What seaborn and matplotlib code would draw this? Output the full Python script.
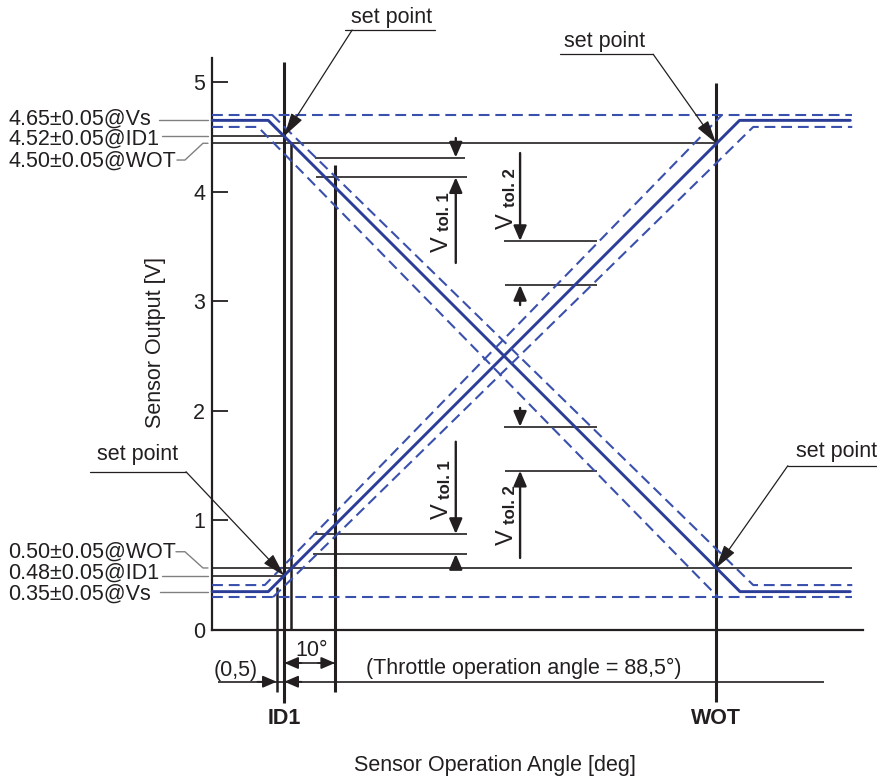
import matplotlib
matplotlib.use("Agg")
import matplotlib.pyplot as plt
import seaborn as sns
import pandas as pd

# ---------------- data (angle in deg relative to ID1, output in V) ----------------
angle_dec = [-14.8, -3.3, 93.4, 116.0]
volt_dec = [4.65, 4.65, 0.35, 0.35]
angle_inc = [-14.8, -3.3, 93.3, 116.0]
volt_inc = [0.35, 0.35, 4.65, 4.65]

angle_dec_hi = [-2.5, 96.1, 116.4]
volt_dec_hi = [4.70, 0.41, 0.41]
angle_dec_lo = [-14.8, -5.4, 88.9]
volt_dec_lo = [4.59, 4.59, 0.30]
angle_inc_hi = [-14.8, -4.0, 89.7]
volt_inc_hi = [0.41, 0.41, 4.70]
angle_inc_lo = [-2.3, 96.1, 116.4]
volt_inc_lo = [0.30, 4.59, 4.59]

limit_angle = [-14.8, 116.4]
limit_hi = 4.70
limit_lo = 0.30

id1_angle = 0.0
wot_angle = 88.5
id1_hi, wot_hi = 4.507, 4.441
id1_lo, wot_lo = 0.495, 0.566
vs_hi, vs_lo = 4.65, 0.35

yticks = [0, 1, 2, 3, 4, 5]
labels_top = ["4.65±0.05@Vs", "4.52±0.05@ID1", "4.50±0.05@WOT"]
labels_bot = ["0.50±0.05@WOT", "0.48±0.05@ID1", "0.35±0.05@Vs"]

# ---------------- style ----------------
sns.set_theme(style="white")
plt.rcParams["font.family"] = ["Liberation Sans", "DejaVu Sans"]
ink = "#231f20"
blue = "#2b3d97"
blue_d = "#3a50ad"
grey = "#808080"
FS = 15.5

fig = plt.figure(figsize=(8.78, 7.8), dpi=100)
ax = fig.add_axes([212 / 878, 150 / 780, 651 / 878, 572 / 780])
ax.set_xlim(-14.82, 118.6)
ax.set_ylim(0, 5.219)

# ---------------- curves ----------------
dash = (0, (5.2, 2.8))
def curve(xs, ys, solid=True):
    df = pd.DataFrame({"a": xs, "v": ys})
    sns.lineplot(data=df, x="a", y="v", sort=False, estimator=None, ax=ax,
                 color=blue if solid else blue_d,
                 lw=2.1 if solid else 1.5,
                 linestyle="-" if solid else dash, clip_on=False, zorder=3)

curve(angle_dec, volt_dec)
curve(angle_inc, volt_inc)
curve(angle_dec_hi, volt_dec_hi, False)
curve(angle_dec_lo, volt_dec_lo, False)
curve(angle_inc_hi, volt_inc_hi, False)
curve(angle_inc_lo, volt_inc_lo, False)
curve(limit_angle, [limit_hi, limit_hi], False)
curve(limit_angle, [limit_lo, limit_lo], False)

for s in ["top", "right"]:
    ax.spines[s].set_visible(False)
for s in ["left", "bottom"]:
    ax.spines[s].set_linewidth(1.6)
    ax.spines[s].set_color(ink)
ax.set_xticks([])
ax.set_yticks(yticks)
ax.tick_params(axis="y", direction="in", length=11.5, width=1.3, pad=5,
               labelsize=FS, colors=ink, left=True)

# ---------------- reference lines ----------------
def hl(y, x0, x1, lw=1.2, c=ink):
    ax.plot([x0, x1], [y, y], color=c, lw=lw, clip_on=False, zorder=2,
            solid_capstyle="butt")

def vl(x, y0, y1, lw=2.0):
    ax.plot([x, x], [y0, y1], color=ink, lw=lw, clip_on=False, zorder=2,
            solid_capstyle="butt")

xl = -14.82
hl(id1_hi, xl, id1_angle)
hl(wot_hi, xl, wot_angle)
hl(id1_lo, xl, id1_angle)
hl(wot_lo, xl, 116.4)
# tolerance dimension extension lines
hl(4.311, 6.3, 37.0)
hl(4.131, 6.5, 37.45)
hl(3.549, 45.0, 64.1)
hl(3.148, 45.2, 64.1)
hl(1.855, 45.0, 64.1)
hl(1.453, 45.2, 64.1)
hl(0.876, 5.9, 37.45)
hl(0.693, 5.9, 37.45)

vl(-1.56, 0.395, -0.566, 1.8)
vl(id1_angle, 5.18, -0.666, 2.2)
vl(1.37, wot_hi, 0.0, 1.8)
vl(10.4, 4.24, -0.566, 2.2)
vl(wot_angle, 4.99, -0.657, 2.2)

# bottom dimension lines
hl(-0.472, -13.6, 110.6)
hl(-0.301, 0.0, 10.4)

def arrow(x0, y0, x1, y1, ms=14, lw=1.2, hl_=0.65, hw=0.28):
    ax.annotate("", xy=(x1, y1), xytext=(x0, y0),
                arrowprops=dict(arrowstyle=f"-|>,head_length={hl_},head_width={hw}",
                                color=ink, lw=lw, shrinkA=0, shrinkB=0,
                                mutation_scale=ms),
                annotation_clip=False)

arrow(3.5, -0.301, 0.0, -0.301, ms=13)
arrow(6.9, -0.301, 10.4, -0.301, ms=13)
arrow(-5.5, -0.472, -1.56, -0.472, ms=13)
arrow(3.5, -0.472, 0.0, -0.472, ms=13)

ax.text(5.68, -0.19, "10°", ha="center", va="center", fontsize=FS, color=ink)
ax.text(-9.9, -0.37, "(0,5)", ha="center", va="center", fontsize=FS, color=ink)
ax.text(49.1, -0.347, "(Throttle operation angle = 88,5°)", ha="center",
        va="center", fontsize=FS, color=ink)
ax.text(id1_angle, -0.81, "ID1", ha="center", va="center", fontsize=FS,
        fontweight="bold", color=ink)
ax.text(wot_angle, -0.81, "WOT", ha="center", va="center", fontsize=FS,
        fontweight="bold", color=ink)

# V tol dimensions
xt1, xt2 = 35.14, 48.32
arrow(xt1, 4.489, xt1, 4.311, lw=1.7)
arrow(xt1, 3.349, xt1, 4.131, lw=1.7)
arrow(xt2, 4.352, xt2, 3.549, lw=1.7)
arrow(xt2, 2.965, xt2, 3.148, lw=1.7)
arrow(xt1, 1.718, xt1, 0.876, lw=1.7)
arrow(xt1, 0.566, xt1, 0.693, lw=1.7)
arrow(xt2, 2.026, xt2, 1.855, lw=1.7)
arrow(xt2, 0.657, xt2, 1.453, lw=1.7)

def vtol(xv, yv, xs, ys, n):
    ax.text(xv, yv, "V", rotation=90, ha="center", va="center", fontsize=17,
            color=ink, rotation_mode="anchor")
    ax.text(xs, ys, f"tol. {n}", rotation=90, ha="center", va="center",
            fontsize=12, fontweight="bold", color=ink, rotation_mode="anchor")

vtol(32.23, 3.522, 32.84, 3.814, 1)
vtol(45.55, 3.732, 46.27, 4.037, 2)
vtol(32.23, 1.086, 32.94, 1.373, 1)
vtol(45.55, 0.844, 46.27, 1.141, 2)

# set point callouts
def setpoint(tip, start, lead, txt):
    ax.plot([lead[0], lead[1]], [start[1], start[1]], color=ink, lw=0.9,
            clip_on=False)
    arrow(start[0], start[1], tip[0], tip[1], ms=18, lw=0.9, hl_=0.8, hw=0.22)
    ax.text(txt[0], txt[1], "set point", ha="center", va="center",
            fontsize=FS, color=ink)

setpoint((id1_angle, id1_hi), (13.9, 5.474), (12.4, 30.9), (21.9, 5.593))
setpoint((wot_angle, wot_hi), (75.6, 5.253), (56.5, 75.6), (65.7, 5.365))
setpoint((id1_angle, id1_lo), (-20.15, 1.444), (-39.8, -20.15), (-30.0, 1.597))
setpoint((wot_angle, wot_lo), (103.2, 1.499), (103.2, 121.7), (113.1, 1.627))

# left labels with grey leaders
xlab = -56.6
for t, y in zip(labels_top, [4.662, 4.480, 4.282]):
    ax.text(xlab, y, t, ha="left", va="center", fontsize=FS, color=ink)
for t, y in zip(labels_bot, [0.714, 0.520, 0.328]):
    ax.text(xlab, y, t, ha="left", va="center", fontsize=FS, color=ink)

def lead(xs, ys):
    ax.plot(xs, ys, color=grey, lw=1.0, clip_on=False)

lead([-25.7, -15.64], [vs_hi, vs_hi])
lead([-25.07, -15.64], [id1_hi, id1_hi])
lead([-22.0, -20.36, -16.67, -15.64], [4.288, 4.288, wot_hi, wot_hi])
lead([-22.2, -20.36, -16.67, -15.64], [0.714, 0.714, wot_lo, wot_lo])
lead([-25.07, -15.64], [id1_lo, id1_lo])
lead([-25.5, -15.64], [vs_lo, vs_lo])

# axis labels
ax.set_xlabel("")
ax.set_ylabel("Sensor Output [V]", fontsize=FS, color=ink)
ax.yaxis.set_label_coords((166 - 212) / 651, (630 - 342) / 572)
fig.text(495 / 878, 1 - 766 / 780, "Sensor Operation Angle [deg]",
         ha="center", va="center", fontsize=FS, color=ink)

fig.savefig("out.png", dpi=100)
